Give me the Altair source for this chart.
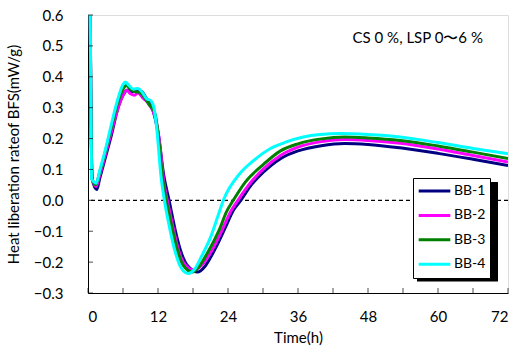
import altair as alt
import pandas as pd

series_names = ["BB-1", "BB-2", "BB-3", "BB-4"]
series_colors = ["#000080", "#FF00FF", "#008000", "#00FFFF"]

t_bb1 = [0.3, 0.7, 1.5, 2, 3, 4, 5, 6, 6.8, 7.5, 8.3, 9.2, 10, 11, 12, 13, 13.9, 15, 16, 17, 18.9, 20, 21, 22, 23.5, 25, 26.2, 28, 30, 33, 36, 40, 44, 48, 53.5, 60, 66, 72]
v_bb1 = [0.8, 0.07, 0.035, 0.07, 0.14, 0.21, 0.29, 0.34, 0.357, 0.352, 0.355, 0.352, 0.33, 0.30, 0.22, 0.08, 0.0, -0.1, -0.17, -0.21, -0.232, -0.215, -0.185, -0.15, -0.09, -0.03, 0.0, 0.05, 0.09, 0.135, 0.16, 0.177, 0.184, 0.181, 0.17, 0.152, 0.133, 0.113]

t_bb2 = [0.3, 0.7, 1.4, 2, 3, 4, 5, 6, 6.6, 7.3, 8, 8.5, 9.5, 10.5, 11.5, 12.2, 13, 13.6, 14.5, 15.5, 16.5, 18.2, 19.5, 21, 22.9, 24.5, 25.7, 28, 30, 33, 36, 40, 44, 48, 53.5, 60, 66, 72]
v_bb2 = [0.8, 0.07, 0.045, 0.08, 0.15, 0.22, 0.29, 0.34, 0.356, 0.345, 0.34, 0.348, 0.33, 0.31, 0.27, 0.2, 0.06, 0.0, -0.08, -0.16, -0.205, -0.226, -0.21, -0.17, -0.1, -0.035, 0.0, 0.06, 0.1, 0.145, 0.172, 0.19, 0.197, 0.194, 0.185, 0.166, 0.145, 0.124]

t_bb3 = [0.3, 0.7, 1.3, 2, 3, 4, 5, 6, 6.6, 7.3, 8, 8.8, 9.6, 10.5, 11.5, 12.1, 12.8, 13.4, 14.3, 15.3, 16.3, 17.9, 19, 20.5, 22.4, 23.8, 24.9, 27, 30, 33, 36, 40, 44, 48, 53.5, 60, 66, 72]
v_bb3 = [0.8, 0.07, 0.05, 0.09, 0.16, 0.235, 0.31, 0.36, 0.372, 0.36, 0.352, 0.35, 0.335, 0.31, 0.28, 0.2, 0.07, 0.0, -0.08, -0.16, -0.21, -0.232, -0.215, -0.17, -0.1, -0.035, 0.0, 0.06, 0.115, 0.16, 0.183, 0.199, 0.205, 0.202, 0.194, 0.176, 0.156, 0.135]

t_bb4 = [0.3, 0.6, 1.0, 1.4, 2, 3, 4, 5, 6, 6.4, 7, 7.8, 8.5, 9.3, 10, 10.8, 11.3, 11.8, 12.5, 13.1, 14, 15, 16, 17.2, 18.2, 19.5, 21, 22.2, 23.2, 26, 28.4, 31.2, 34, 36.9, 39.8, 43.2, 48, 53.5, 60, 66, 72]
v_bb4 = [0.8, 0.07, 0.06, 0.055, 0.095, 0.165, 0.245, 0.32, 0.375, 0.383, 0.372, 0.36, 0.362, 0.35, 0.33, 0.322, 0.3, 0.23, 0.08, 0.0, -0.09, -0.17, -0.22, -0.237, -0.225, -0.18, -0.12, -0.055, 0.0, 0.086, 0.129, 0.167, 0.189, 0.205, 0.213, 0.216, 0.213, 0.205, 0.187, 0.168, 0.151]

x_tick_values = [0, 6, 12, 18, 24, 30, 36, 42, 48, 54, 60, 66, 72]
x_label_values = [0, 12, 24, 36, 48, 60, 72]
y_tick_values = [-0.3, -0.2, -0.1, 0.0, 0.1, 0.2, 0.3, 0.4, 0.5, 0.6]

annotation = "CS 0 %, LSP 0〜6 %"
x_title = "Time(h)"
y_title = "Heat liberation rateof BFS(mW/g)"

FONT = "Lato"
W, H = 420, 278

rows = []
for name, ts, vs in zip(series_names, [t_bb1, t_bb2, t_bb3, t_bb4], [v_bb1, v_bb2, v_bb3, v_bb4]):
    for t, v in zip(ts, vs):
        rows.append({"series": name, "t": t, "v": v})
df = pd.DataFrame(rows)
df["order"] = df["series"].map({n: i for i, n in enumerate(series_names)})

xscale = alt.Scale(domain=[0, 72], nice=False, zero=False)
yscale = alt.Scale(domain=[-0.3, 0.6], nice=False, zero=False)

xaxis = alt.Axis(values=x_label_values, ticks=False, grid=False, domainColor="black",
                 labelFont=FONT, labelFontSize=15, labelColor="black", labelPadding=16,
                 labelOverlap=False,
                 title=x_title, titleFont=FONT, titleFontSize=15, titleFontWeight="normal",
                 titleColor="black", titlePadding=6)
yaxis = alt.Axis(values=y_tick_values, format=".1f", ticks=False, grid=False, domainColor="black",
                 labelFont=FONT, labelFontSize=15, labelColor="black", labelPadding=25,
                 labelOverlap=False,
                 title=y_title, titleFont=FONT, titleFontSize=15, titleFontWeight="normal",
                 titleColor="black", titlePadding=12)

lines = alt.Chart(df).mark_line(strokeWidth=3, clip=True, interpolate="monotone").encode(
    x=alt.X("t:Q", scale=xscale, axis=xaxis),
    y=alt.Y("v:Q", scale=yscale, axis=yaxis),
    color=alt.Color("series:N", scale=alt.Scale(domain=series_names, range=series_colors),
                    legend=alt.Legend(orient="none", legendX=325, legendY=163, title=None,
                                      symbolType="stroke", symbolSize=1000, symbolStrokeWidth=3,
                                      clipHeight=18, rowPadding=6.4,
                                      labelFont=FONT, labelFontSize=14, labelColor="black",
                                      strokeColor="black", fillColor="white", padding=4,
                                      labelOffset=2)),
    order=alt.Order("order:Q"),
    detail="series:N",
)

zero = alt.Chart(pd.DataFrame({"z": [0.0]})).mark_rule(color="black", strokeDash=[4, 3], strokeWidth=1.2).encode(
    y=alt.Y("z:Q", scale=yscale, axis=yaxis)
)

shadow = alt.Chart(pd.DataFrame({"z": [0.0]})).mark_rect(color="black", opacity=1).encode(
    x=alt.value(329), x2=alt.value(410), y=alt.value(167), y2=alt.value(266.5)
)

xt = alt.Chart(pd.DataFrame({"t": x_tick_values})).mark_tick(color="black", size=5, thickness=1, orient="vertical").encode(
    x=alt.X("t:Q", scale=xscale, axis=xaxis), y=alt.value(H - 2.5)
)
yt = alt.Chart(pd.DataFrame({"v": y_tick_values})).mark_tick(color="black", size=5, thickness=1, orient="horizontal").encode(
    y=alt.Y("v:Q", scale=yscale, axis=yaxis), x=alt.value(2.5)
)

note = alt.Chart(pd.DataFrame({"t": [67.7], "v": [0.525], "s": [annotation]})).mark_text(
    font=FONT, fontSize=15, align="right", baseline="middle", color="black"
).encode(x=alt.X("t:Q", scale=xscale, axis=xaxis), y=alt.Y("v:Q", scale=yscale, axis=yaxis), text="s:N")

chart = alt.layer(zero, lines, shadow, xt, yt, note).properties(
    width=W, height=H,
    autosize=alt.AutoSizeParams(type="none"),
    padding={"left": 88, "top": 15, "right": 11, "bottom": 61},
).configure_view(stroke="#8c8c8c", strokeWidth=1.5).configure(background="white")

chart.save("out.html", embed_options={"renderer": "svg", "actions": False})
